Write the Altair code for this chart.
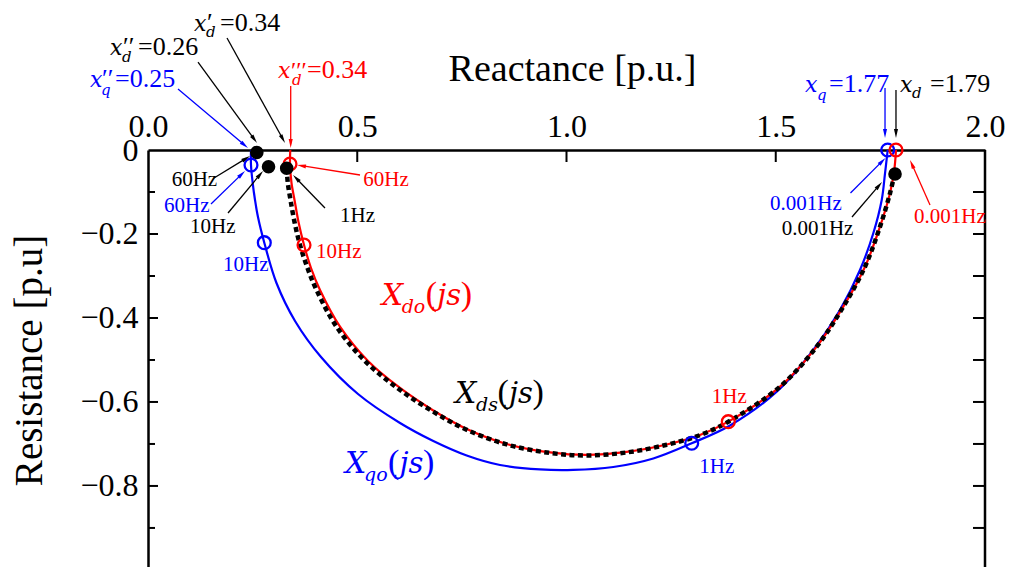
import math
import altair as alt
import pandas as pd

FONT = "Liberation Serif"
IT_FONT = "DejaVu Serif"
BLUE = "#0000FF"
RED = "#FF0000"
BLACK = "#000000"

# plot area and scale domains
W, H = 837, 417
X_MIN, X_MAX = 0.0, 2.0
Y_MIN, Y_MAX = -0.993, 0.0
PXX = W / (X_MAX - X_MIN)
PXY = H / (Y_MAX - Y_MIN)

# ---- loci (reactance, resistance) ----
qo_x = [0.2461, 0.2461, 0.2502, 0.2557, 0.2628, 0.2779, 0.3070, 0.3513, 0.4134, 0.5018,
        0.6022, 0.6817, 0.7615, 0.8411, 0.9367, 1.0162, 1.1118, 1.2074, 1.2992, 1.3907,
        1.5023, 1.5897, 1.6535, 1.7013, 1.7331, 1.7532, 1.7611, 1.7675]
qo_y = [0.0000, -0.0357, -0.0786, -0.1190, -0.1595, -0.2207, -0.3167, -0.4071, -0.4929, -0.5810,
        -0.6500, -0.6929, -0.7274, -0.7500, -0.7607, -0.7619, -0.7548, -0.7345, -0.6983, -0.6560,
        -0.5755, -0.4762, -0.3810, -0.2857, -0.1983, -0.1190, -0.0555, 0.0000]

do_x = [0.3400, 0.3393, 0.3429, 0.3501, 0.3596, 0.3728, 0.3895, 0.4110, 0.4588, 0.5257,
        0.6022, 0.6817, 0.7615, 0.8571, 0.9606, 1.0483, 1.1438, 1.2394, 1.3190, 1.3866,
        1.5102, 1.5978, 1.6614, 1.7133, 1.7491, 1.7730, 1.7832, 1.7873]
do_y = [0.0000, -0.0333, -0.0786, -0.1190, -0.1714, -0.2262, -0.2810, -0.3333, -0.4207, -0.5024,
        -0.5667, -0.6202, -0.6643, -0.7000, -0.7202, -0.7262, -0.7190, -0.7012, -0.6786, -0.6469,
        -0.5636, -0.4683, -0.3731, -0.2779, -0.1826, -0.1031, -0.0476, 0.0000]

ds_x = [0.3314, 0.3341, 0.3405, 0.3501, 0.3632, 0.3811, 0.4026, 0.4504, 0.5185, 0.5974,
        0.6786, 0.7599, 0.8571, 0.9606, 1.0483, 1.1438, 1.2394, 1.3190, 1.3866, 1.5102,
        1.5978, 1.6614, 1.7133, 1.7491, 1.7730, 1.7838]
ds_y = [-0.0436, -0.0786, -0.1190, -0.1714, -0.2262, -0.2810, -0.3333, -0.4207, -0.5024, -0.5679,
        -0.6214, -0.6655, -0.7012, -0.7214, -0.7274, -0.7202, -0.7019, -0.6790, -0.6471, -0.5636,
        -0.4683, -0.3731, -0.2779, -0.1826, -0.1031, -0.0571]

# ---- frequency markers (60Hz, 10Hz, 1Hz, 0.001Hz) ----
freqs = ["60Hz", "10Hz", "1Hz", "0.001Hz"]
qo_mark_x = [0.2461, 0.2779, 1.2992, 1.7675]
qo_mark_y = [-0.0357, -0.2207, -0.6983, 0.0000]
do_mark_x = [0.3393, 0.3728, 1.3866, 1.7873]
do_mark_y = [-0.0333, -0.2262, -0.6469, 0.0000]
ds_mark_x = [0.2600, 0.2880, 0.3314, 1.7850]
ds_mark_y = [-0.0060, -0.0400, -0.0436, -0.0571]

# ---- axes ----
x_ticks = [0.0, 0.5, 1.0, 1.5, 2.0]
y_ticks = [0.0, -0.2, -0.4, -0.6, -0.8]
y_minor = [-0.1, -0.3, -0.5, -0.7, -0.9]

x_scale = alt.Scale(domain=[X_MIN, X_MAX], nice=False, zero=False)
y_scale = alt.Scale(domain=[Y_MIN, Y_MAX], nice=False, zero=False)

x_axis = alt.Axis(
    orient="top", values=x_ticks, format=".1f", ticks=False, tickSize=0,
    labelFont=FONT, labelFontSize=32, labelColor=BLACK, labelPadding=14,
    labelBaseline="alphabetic", labelFlush=False, labelOverlap=False,
    domain=True, domainColor=BLACK, domainWidth=2.5, grid=False,
    title="Reactance [p.u.]", titleFont=FONT, titleFontSize=38,
    titleFontWeight="normal", titleColor=BLACK, titleX=424, titleY=-70,
    titleBaseline="alphabetic", titleAlign="center",
)
y_axis = alt.Axis(
    orient="left", values=y_ticks, labelExpr="datum.value === 0 ? '0' : datum.label",
    format=".1f", ticks=False, tickSize=0,
    labelFont=FONT, labelFontSize=32, labelColor=BLACK, labelPadding=10,
    labelFlush=False, labelOverlap=False,
    domain=True, domainColor=BLACK, domainWidth=2.5, grid=False,
    title="Resistance  [p.u]", titleFont=FONT, titleFontSize=39,
    titleFontWeight="normal", titleColor=BLACK, titleAngle=270,
    titleX=-107, titleY=210, titleBaseline="alphabetic", titleAlign="center",
)


def X(field="x"):
    return alt.X(f"{field}:Q", scale=x_scale, axis=x_axis)


def Y(field="y"):
    return alt.Y(f"{field}:Q", scale=y_scale, axis=y_axis)


def curve(xs, ys):
    return pd.DataFrame({"x": xs, "y": ys, "i": range(len(xs))})


def locus(xs, ys, **style):
    return alt.Chart(curve(xs, ys)).mark_line(interpolate="catmull-rom", **style).encode(
        x=X(), y=Y(), order=alt.Order("i:Q"))


line_qo = locus(qo_x, qo_y, color=BLUE, strokeWidth=2.2)
line_do = locus(do_x, do_y, color=RED, strokeWidth=2.2)
line_ds = locus(ds_x, ds_y, color=BLACK, strokeWidth=4.5, strokeDash=[5, 3.5])


def markers(xs, ys):
    return pd.DataFrame({"x": xs, "y": ys, "f": freqs})


pts_qo = alt.Chart(markers(qo_mark_x, qo_mark_y)).mark_point(
    shape="circle", filled=False, size=165, strokeWidth=2.3, color=BLUE, opacity=1
).encode(x=X(), y=Y())
pts_do = alt.Chart(markers(do_mark_x, do_mark_y)).mark_point(
    shape="circle", filled=False, size=165, strokeWidth=2.3, color=RED, opacity=1
).encode(x=X(), y=Y())
pts_ds = alt.Chart(markers(ds_mark_x, ds_mark_y)).mark_circle(
    size=185, color=BLACK, opacity=1
).encode(x=X(), y=Y())

# ---- frame and inward ticks ----
top_ticks = alt.Chart(pd.DataFrame({"x": x_ticks[1:-1]})).mark_rule(
    color=BLACK, strokeWidth=2).encode(x=X(), y=alt.value(0), y2=alt.value(12))
left_major = alt.Chart(pd.DataFrame({"y": y_ticks[1:]})).mark_rule(
    color=BLACK, strokeWidth=2).encode(y=Y(), x=alt.value(0), x2=alt.value(10))
left_minor = alt.Chart(pd.DataFrame({"y": y_minor})).mark_rule(
    color=BLACK, strokeWidth=2).encode(y=Y(), x=alt.value(0), x2=alt.value(7))
right_ticks = alt.Chart(pd.DataFrame({"y": y_ticks[1:] + y_minor})).mark_rule(
    color=BLACK, strokeWidth=2).encode(y=Y(), x=alt.value(W - 12), x2=alt.value(W))
right_edge = alt.Chart(pd.DataFrame({"k": [0]})).mark_rule(
    color=BLACK, strokeWidth=2.5).encode(x=alt.value(W), y=alt.value(0), y2=alt.value(H))

# ---- annotation layout: anchors in data units, piece offsets in pixels ----
IT, RM = True, False
P = "\u2032"  # prime


def pieces(ax, ay, color, parts):
    rows = []
    for text, size, italic, ox, oy in parts:
        rows.append(dict(x=ax + ox / PXX, y=ay - oy / PXY, text=text,
                         size=size, italic=italic, color=color))
    return rows


text_rows = []
# parameter labels (italic symbol, primes, subscript, value)
text_rows += pieces(-0.1386, 0.150, BLUE, [("x", 22, IT, 0, 0), (P * 2, 26, RM, 12, 0), ("q", 15, IT, 11, 8), ("=0.25", 26, RM, 25, 0)])
text_rows += pieces(-0.0908, 0.2262, BLACK, [("x", 22, IT, 0, 0), (P * 2, 26, RM, 13, 0), ("d", 15, IT, 12, 7), ("=0.26", 26, RM, 28, 0)])
text_rows += pieces(0.1099, 0.2833, BLACK, [("x", 22, IT, 0, 0), (P, 26, RM, 13, 0), ("d", 15, IT, 12, 6), ("=0.34", 26, RM, 26, 0)])
text_rows += pieces(0.3106, 0.1714, RED, [("x", 22, IT, 0, 0), (P * 3, 24, RM, 13, 0), ("d", 15, IT, 14, 7), ("=0.34", 26, RM, 29, 0)])
text_rows += pieces(1.5699, 0.1381, BLUE, [("x", 22, IT, 0, 0), ("q", 15, IT, 12, 8), ("=1.77", 26, RM, 24, 0)])
text_rows += pieces(1.7969, 0.1381, BLACK, [("x", 22, IT, 0, 0), ("d", 15, IT, 12, 6), ("=1.79", 26, RM, 30, 0)])
# locus names
text_rows += pieces(0.5584, -0.369, RED, [("X", 30, IT, 0, 0), ("do", 19, IT, 20, 8), ("(", 34, RM, 44, 0), ("js", 29, IT, 55.5, 0), (")", 34, RM, 79, 0)])
text_rows += pieces(0.7336, -0.6024, BLACK, [("X", 30, IT, 0, 0), ("ds", 19, IT, 21, 8), ("(", 34, RM, 42.5, 0), ("js", 29, IT, 54, 0), (")", 34, RM, 77.5, 0)])
text_rows += pieces(0.4707, -0.769, BLUE, [("X", 30, IT, 0, 0), ("qo", 19, IT, 19, 8), ("(", 34, RM, 43, 0), ("js", 29, IT, 54.5, 0), (")", 34, RM, 78, 0)])
# frequency labels
for fx, fy, txt, col in [
    (0.0566, -0.0857, "60Hz", BLACK), (0.0382, -0.1476, "60Hz", BLUE),
    (0.1004, -0.1976, "10Hz", BLACK), (0.4588, -0.1714, "1Hz", BLACK),
    (0.5145, -0.0857, "60Hz", RED), (0.4014, -0.2571, "10Hz", RED),
    (0.1792, -0.2881, "10Hz", BLUE), (1.3470, -0.6031, "1Hz", RED),
    (1.3173, -0.7683, "1Hz", BLUE), (1.4863, -0.1429, "0.001Hz", BLUE),
    (1.5142, -0.2024, "0.001Hz", BLACK), (1.8303, -0.1745, "0.001Hz", RED),
]:
    text_rows += pieces(fx, fy, col, [(txt, 21, RM, 0, 0)])

text_df = pd.DataFrame(text_rows)


def text_layer(italic):
    return alt.Chart(text_df[text_df["italic"] == italic]).mark_text(
        align="left", baseline="alphabetic",
        font=IT_FONT if italic else FONT,
        fontStyle="italic" if italic else "normal",
    ).encode(x=X(), y=Y(), text="text:N",
             size=alt.Size("size:Q", scale=None),
             color=alt.Color("color:N", scale=None))


# ---- arrows: tail -> tip ----
arrows = [
    (0.0717, 0.1452, 0.2389, 0.0048, BLUE),
    (0.1195, 0.2095, 0.2605, 0.0167, BLACK),
    (0.1888, 0.2667, 0.3274, 0.0167, BLACK),
    (0.3410, 0.1524, 0.3410, 0.0048, RED),
    (0.1577, -0.0667, 0.2437, -0.0143, BLACK),
    (0.1505, -0.1286, 0.2318, -0.0500, BLUE),
    (0.1912, -0.1500, 0.2748, -0.0500, BLACK),
    (0.4229, -0.1381, 0.3465, -0.0595, BLACK),
    (0.5066, -0.0595, 0.3560, -0.0357, RED),
    (1.7611, 0.1476, 1.7611, 0.0286, BLUE),
    (1.7873, 0.1429, 1.7873, 0.0286, BLACK),
    (1.6786, -0.1024, 1.7622, -0.0190, BLUE),
    (1.6822, -0.1595, 1.7539, -0.0762, BLACK),
    (1.8686, -0.1310, 1.8208, -0.0238, RED),
]
HEAD = 9
shaft_rows, head_rows = [], []
for tx, ty, hx, hy, col in arrows:
    dxp = (hx - tx) * PXX
    dyp = -(hy - ty) * PXY
    ln = math.hypot(dxp, dyp)
    ux, uy = dxp / ln, dyp / ln
    ang = math.degrees(math.atan2(ux, -uy)) % 360
    cx = hx - ux * (HEAD / 2) / PXX
    cy = hy + uy * (HEAD / 2) / PXY
    shaft_rows.append(dict(x=tx, y=ty, x2=cx, y2=cy, color=col))
    head_rows.append(dict(x=cx, y=cy, angle=ang, color=col))

shafts = alt.Chart(pd.DataFrame(shaft_rows)).mark_rule(strokeWidth=1.3).encode(
    x=X(), y=Y(), x2="x2:Q", y2="y2:Q", color=alt.Color("color:N", scale=None))
heads = alt.Chart(pd.DataFrame(head_rows)).mark_point(
    shape="M0,-1L0.45,1L-0.45,1Z", filled=True, size=HEAD * HEAD, opacity=1, strokeWidth=0
).encode(x=X(), y=Y(), angle=alt.Angle("angle:Q", scale=None),
         color=alt.Color("color:N", scale=None))

chart = alt.layer(
    top_ticks, left_major, left_minor, right_ticks, right_edge,
    line_qo, line_do, line_ds,
    pts_qo, pts_do, pts_ds,
    shafts, heads,
    text_layer(False), text_layer(True),
).properties(
    width=W, height=H,
    padding={"left": 148, "top": 150, "right": 25, "bottom": 0},
    autosize=alt.AutoSizeParams(type="none"),
    background="white",
).configure_view(stroke=None)

chart.save("out.html", embed_options={"renderer": "svg", "actions": False})
